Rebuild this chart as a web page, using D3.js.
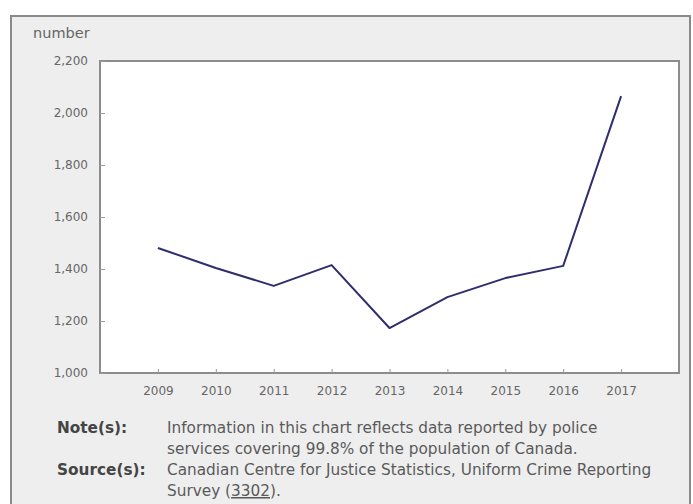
<!DOCTYPE html>
<html><head><meta charset="utf-8">
<script src="https://cdn.jsdelivr.net/npm/d3@7"></script>
<style>
body{margin:0;background:#fff;}
svg text{font-family:"DejaVu Sans",Verdana,sans-serif;}
</style></head>
<body>
<svg id="c" width="693" height="504"></svg>
<script>
const years = ["2009","2010","2011","2012","2013","2014","2015","2016","2017"];
const values = [1481,1404,1335,1415,1173,1292,1365,1412,2065];
const yTicks = [1000,1200,1400,1600,1800,2000,2200];
const yTitle = "number";
const noteLabel = "Note(s):";
const noteLines = ["Information in this chart reflects data reported by police","services covering 99.8% of the population of Canada."];
const sourceLabel = "Source(s):";
const sourceLines = ["Canadian Centre for Justice Statistics, Uniform Crime Reporting","Survey (3302)."];

const svg = d3.select("#c");
// outer panel
svg.append("rect").attr("x",11).attr("y",16).attr("width",679).attr("height",500)
  .attr("fill","#eeeeee").attr("stroke","#8a8a8a").attr("stroke-width",2);

const L=100,R=679,T=61,B=373;
svg.append("rect").attr("x",L).attr("y",T).attr("width",R-L).attr("height",B-T)
  .attr("fill","#fff").attr("stroke","#8c8c8c").attr("stroke-width",2);

const x = d3.scalePoint().domain(years).range([L,R]).padding(1);
const y = d3.scaleLinear().domain([1000,2200]).range([B,T]);

const yAxis = svg.append("g").attr("transform",`translate(${L},0)`)
  .call(d3.axisLeft(y).tickValues(yTicks).tickFormat(d3.format(",")).tickSize(-5).tickPadding(12));
yAxis.select(".domain").remove();
yAxis.selectAll("line").attr("stroke","#999");
yAxis.selectAll("text").attr("fill","#666").style("font-size","12px");

const xAxis = svg.append("g").attr("transform",`translate(0,${B})`)
  .call(d3.axisBottom(x).tickSize(-4).tickPadding(13));
xAxis.select(".domain").remove();
xAxis.selectAll("line").attr("stroke","#999");
xAxis.selectAll("text").attr("fill","#666").style("font-size","12px");

svg.append("text").attr("x",33).attr("y",38).text(yTitle).attr("fill","#666").style("font-size","14.5px");

const line = d3.line().x((d,i)=>x(years[i])).y(d=>y(d));
svg.append("path").datum(values).attr("d",line).attr("fill","none")
  .attr("stroke","#2e2e6e").attr("stroke-width",2).attr("stroke-linejoin","round");

const fs="15.3px", lx=57, tx=167;
svg.append("text").attr("x",lx).attr("y",433).text(noteLabel).attr("fill","#444").style("font-size",fs).style("font-weight","bold");
noteLines.forEach((t,i)=>svg.append("text").attr("x",tx).attr("y",433+i*21).text(t).attr("fill","#5a5a5a").style("font-size",fs));
svg.append("text").attr("x",lx).attr("y",475).text(sourceLabel).attr("fill","#444").style("font-size",fs).style("font-weight","bold");
svg.append("text").attr("x",tx).attr("y",475).text(sourceLines[0]).attr("fill","#5a5a5a").style("font-size",fs);
const s2 = svg.append("text").attr("x",tx).attr("y",496).attr("fill","#5a5a5a").style("font-size",fs);
s2.append("tspan").text("Survey (");
s2.append("tspan").text("3302").attr("text-decoration","underline");
s2.append("tspan").text(").");
</script>
</body></html>
